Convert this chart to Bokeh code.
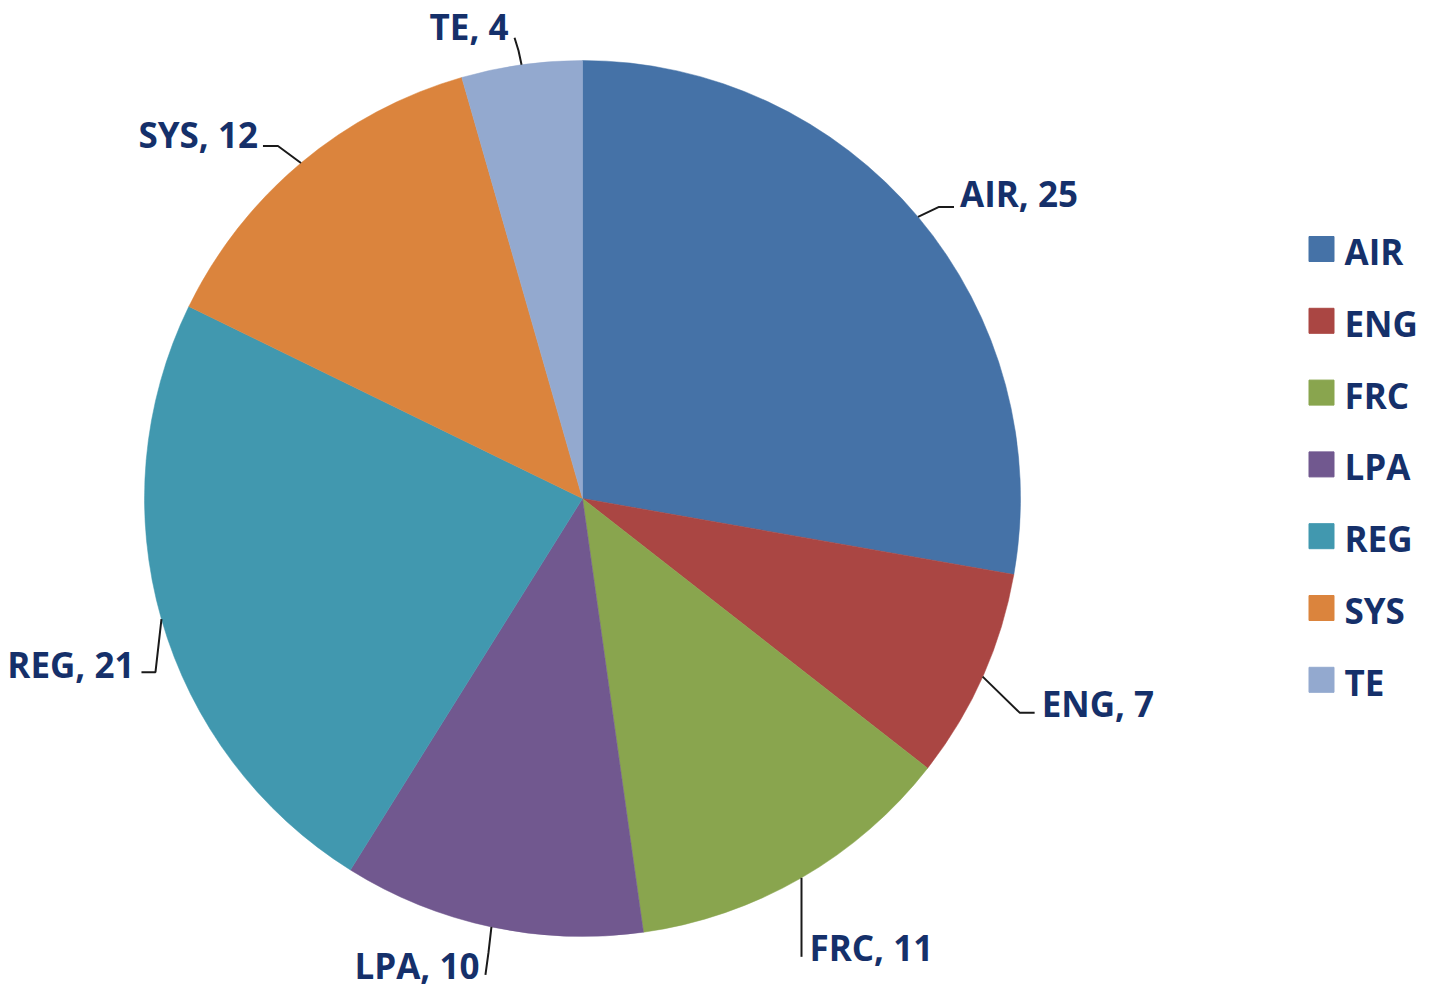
import math
from bokeh.plotting import figure
from bokeh.models import ColumnDataSource
from bokeh.core.properties import value
from bokeh.embed import file_html
from bokeh.resources import INLINE

# ---- data ----
categories = ["AIR", "ENG", "FRC", "LPA", "REG", "SYS", "TE"]
counts = [25, 7, 11, 10, 21, 12, 4]
colors = ["#4572A7", "#AA4643", "#89A54E", "#71588F", "#4198AF", "#DB843D", "#93A9CF"]

# ---- layout ----
W, H = 1417, 992
OX, OY = 11, 12                      # shift of the drawing inside the figure
TEXT_LIFT = 10                       # baseline correction for rendered text


def px(X, Y):
    """reference pixel -> data coords (y up)"""
    return X - OX, H - (Y - OY)


CX, CY = px(593, 510)
R = 438
FONT = "Open Sans"
FS = "35px"
TXT = "#15306A"

# per-label leader layout: offsets (page px, y down) from the arc point
# (elbow dx, dy), (end dx, dy), (text dx, dy from end), align
label_layout = {
    "AIR": ((21, -10), (36, -10), (6, -3), "left"),
    "ENG": ((37, 36), (52, 36), (7, 1), "left"),
    "FRC": ((0, 79), (0, 79), (8, 1), "left"),
    "LPA": ((-3, 26), (-6, 48), (-6, 1), "right"),
    "REG": ((-6, 53), (-20, 53), (-7, 2), "right"),
    "SYS": ((-23, -17), (-38, -17), (-5, -1), "right"),
    "TE": ((-3, -14), (-7, -27), (-6, -1), "right"),
}

p = figure(width=W, height=H, x_range=(0, W), y_range=(0, H),
           output_backend="svg", toolbar_location=None,
           min_border=0, outline_line_color=None)
p.axis.visible = False
p.grid.visible = False
p.background_fill_color = "white"
p.border_fill_color = "white"

total = sum(counts)
starts, ends, mids = [], [], []
cum = 0.0
for c in counts:
    a0 = cum / total * 2 * math.pi
    cum += c
    a1 = cum / total * 2 * math.pi
    # clockwise from 12 o'clock
    starts.append(math.pi / 2 - a1)
    ends.append(math.pi / 2 - a0)
    mids.append((a0 + a1) / 2)

src = ColumnDataSource(dict(cat=categories, val=counts, color=colors,
                            start=starts, end=ends))
p.wedge(x=CX, y=CY, radius=R, start_angle="start", end_angle="end",
        fill_color="color", line_color="color", line_width=0.5, source=src)

# labels and leader lines
for cat, v, m in zip(categories, counts, mids):
    ax = CX + R * math.sin(m)
    ay = CY + R * math.cos(m)
    (ex, ey), (nx, ny), (tx, ty), align = label_layout[cat]
    xs = [ax, ax + ex, ax + nx]
    ys = [ay, ay - ey, ay - ny]
    p.line(xs, ys, line_color="#1a1a1a", line_width=2)
    p.text(x=[ax + nx + tx], y=[ay - ny - ty + TEXT_LIFT], text=[f"{cat}, {v}"],
           text_font=value(FONT), text_font_style="bold", text_font_size=FS,
           text_color=TXT, text_align=align, text_baseline="alphabetic")

# legend (manual)
LX, LY = px(1332, 260.5)
LSTEP = 71.8
for i, (cat, col) in enumerate(zip(categories, colors)):
    yc = LY - i * LSTEP
    p.scatter(x=[LX], y=[yc], marker="square", size=25,
              fill_color=col, line_color=col)
    p.text(x=[LX + 23], y=[yc - 12.5 + TEXT_LIFT], text=[cat],
           text_font=value(FONT), text_font_style="bold", text_font_size=FS,
           text_color=TXT, text_align="left", text_baseline="alphabetic")

open("out.html", "w").write(file_html(p, INLINE))
